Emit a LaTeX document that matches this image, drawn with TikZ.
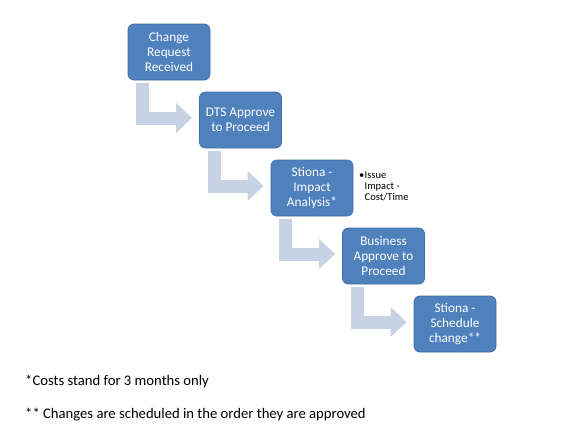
\documentclass[tikz,border=0pt]{standalone}
\usepackage{fontspec}
\setmainfont{Carlito}
\usetikzlibrary{arrows.meta}
\definecolor{boxblue}{RGB}{79,129,189}
\definecolor{boxedge}{RGB}{65,110,165}
\definecolor{arrowgray}{RGB}{199,210,229}
\begin{document}
\begin{tikzpicture}[x=1pt,y=-1pt,
  stepbox/.style={draw=boxedge,line width=0.8pt,fill=boxblue,rounded corners=6pt,
    minimum width=82pt,minimum height=56pt,inner sep=1pt,text=white,align=center,
    font=\fontsize{13.3}{14.6}\selectfont},
  conn/.style={draw=arrowgray,line width=13pt,line join=miter,
    -{Triangle[width=29pt,length=16pt]}},
  note/.style={anchor=west,inner sep=0pt,font=\fontsize{14.67}{17}\selectfont}]
\useasboundingbox (0,0) rectangle (582,431);
\node[stepbox] (b1) at (169,52) {Change\\Request\\Received};
\node[stepbox] (b2) at (240.5,120) {DTS Approve\\to Proceed};
\node[stepbox] (b3) at (312,188) {Stiona -\\Impact\\Analysis*};
\node[stepbox] (b4) at (383.5,256) {Business\\Approve to\\Proceed};
\node[stepbox] (b5) at (455,324) {Stiona -\\Schedule\\change**};
\draw[conn] ([xshift=15pt,yshift=-3pt]b1.south west) |- ([xshift=-7pt,yshift=2pt]b2.west);
\draw[conn] ([xshift=15pt,yshift=-3pt]b2.south west) |- ([xshift=-7pt,yshift=2pt]b3.west);
\draw[conn] ([xshift=15pt,yshift=-3pt]b3.south west) |- ([xshift=-7pt,yshift=2pt]b4.west);
\draw[conn] ([xshift=15pt,yshift=-3pt]b4.south west) |- ([xshift=-7pt,yshift=2pt]b5.west);
\node[anchor=north west,inner sep=0pt,align=left,font=\fontsize{10.5}{11}\selectfont] (bul) at (359,172)
  {\makebox[5.5pt][l]{\textbullet}Issue\\\hspace*{5.5pt}Impact -\\\hspace*{5.5pt}Cost/Time};
\node[note] (n1) at (25,381.5) {*Costs stand for 3 months only};
\node[note] (n2) at (25,415) {** Changes are scheduled in the order they are approved};
\end{tikzpicture}
\end{document}
